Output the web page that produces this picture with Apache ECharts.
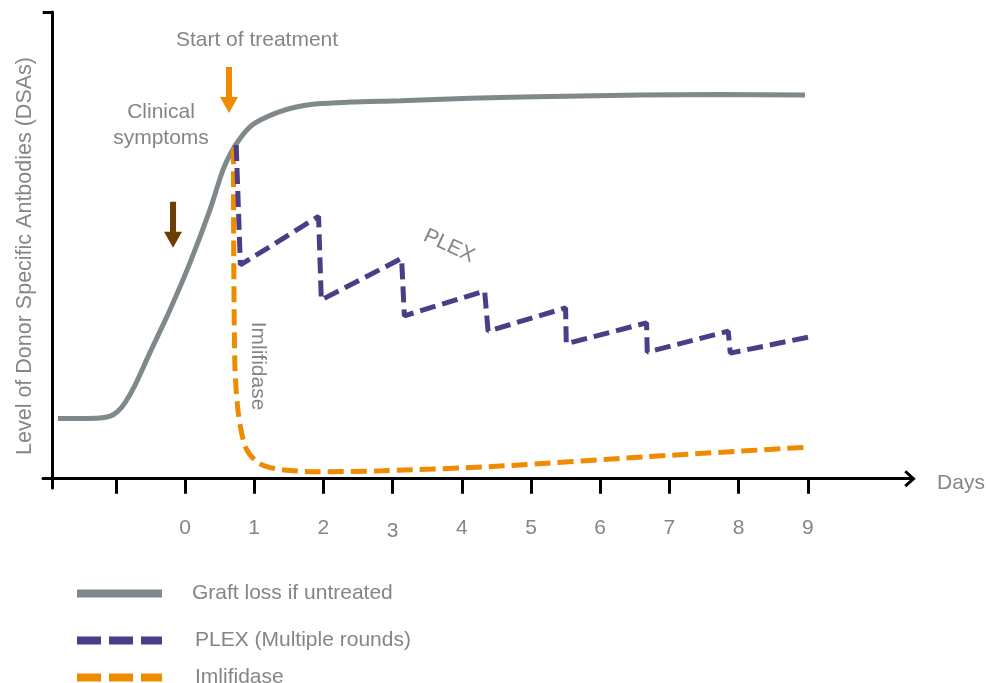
<!DOCTYPE html>
<html>
<head>
<meta charset="utf-8">
<script src="https://cdn.jsdelivr.net/npm/echarts@6/dist/echarts.min.js"></script>
<style>
html,body{margin:0;padding:0;background:#fff;}
#chart{width:986px;height:683px;}
</style>
</head>
<body>
<div id="chart"></div>
<script>
// ---- data (days vs. relative DSA level) ----
const graftDays   = [-1.835, -1.52, -1.23, -1.08, -0.98, -0.87, -0.72, -0.51, -0.22, 0.07, 0.36, 0.55, 0.67, 0.80, 0.94, 1.11, 1.34, 1.59, 1.88, 2.38, 3.11, 4.12, 5.28, 6.58, 7.73, 8.96];
const graftLevels = [12.9, 12.9, 13.0, 13.4, 14.3, 16.2, 20.1, 26.9, 36.1, 46.2, 57.6, 66.2, 70.0, 73.0, 75.4, 77.0, 78.5, 79.6, 80.3, 80.7, 81.0, 81.5, 81.9, 82.2, 82.3, 82.2];

const plexDays   = [0.74, 0.80, 1.93, 1.97, 3.13, 3.17, 4.33, 4.38, 5.50, 5.51, 6.67, 6.68, 7.85, 7.88, 9.03];
const plexLevels = [71.5, 45.8, 56.2, 38.3, 47.2, 34.9, 40.2, 31.6, 36.6, 28.9, 33.4, 27.1, 31.6, 26.9, 30.4];

const imliDays   = [0.70, 0.705, 0.72, 0.74, 0.77, 0.81, 0.87, 0.94, 1.06, 1.16, 1.40, 1.88, 2.86, 4.55, 6.67, 8.94];
const imliLevels = [70.8, 46.2, 24.8, 18.9, 14.1, 10.4, 6.9, 5.1, 3.4, 2.7, 1.9, 1.5, 1.7, 2.7, 4.7, 6.7];

const tickDays  = [-1, 0, 1, 2, 3, 4, 5, 6, 7, 8, 9];
const labelDays = [0, 1, 2, 3, 4, 5, 6, 7, 8, 9];

const seriesNames = ['Graft loss if untreated', 'PLEX (Multiple rounds)', 'Imlifidase'];
const startArrow   = [0.636, 83.3];   // "Start of treatment"
const symptomArrow = [-0.173, 54.4];  // "Clinical symptoms"

// ---- styles ----
const GREY = '#7f898b', PURPLE = '#4a3f86', ORANGE = '#ee8b00', BROWN = '#6b3f02';
const TXT = '#858585';
const FONT = '"Liberation Sans", Arial, sans-serif';
const FS = 21;

const pairs = (xs, ys) => xs.map((x, i) => [x, ys[i]]);
const arrowPath = 'path://M6,0 L12,0 L12,30 L18,30 L9,46 L0,30 L6,30 Z';
const chevron = 'path://M0,9.5 L8.5,0 L17,9.5 L14.8,11.5 L8.5,4.5 L2.2,11.5 Z';

function legendFor(name, top, dash, textPad) {
  return {
    data: [name], left: 73, top: top, orient: 'vertical', padding: 0,
    itemWidth: 85, itemHeight: 14, selectedMode: false,
    lineStyle: { width: 8, type: dash },
    itemStyle: { color: 'transparent', borderColor: 'transparent', borderWidth: 0, opacity: 0 },
    textStyle: { fontFamily: FONT, fontSize: FS, color: TXT, padding: textPad }
  };
}

const chart = echarts.init(document.getElementById('chart'), null, { renderer: 'canvas' });
chart.setOption({
  animation: false,
  backgroundColor: '#fff',
  grid: { left: 43, right: 76, top: 12, bottom: 195 },
  xAxis: {
    type: 'value', min: -2.052, max: 10.477,
    axisLine: { show: true, onZero: true, lineStyle: { color: '#000', width: 3 },
      symbol: ['none', chevron], symbolSize: [17, 12] },
    axisTick: { show: true, customValues: tickDays, length: 15, lineStyle: { color: '#000', width: 3 } },
    axisLabel: { show: true, customValues: labelDays, margin: 30, fontFamily: FONT, fontSize: FS, color: TXT,
      formatter: v => (v === 3 ? '{d|3}' : String(v)),
      rich: { d: { fontFamily: FONT, fontSize: FS, color: TXT, padding: [3, 0, 0, 0] } } },
    splitLine: { show: false }
  },
  yAxis: {
    type: 'value', min: -2, max: 100, offset: -9.7,
    axisLine: { show: true, onZero: false, lineStyle: { color: '#000', width: 3 } },
    axisTick: { show: true, customValues: [100], length: 10, lineStyle: { color: '#000', width: 3 } },
    axisLabel: { show: false },
    splitLine: { show: false }
  },
  legend: [
    legendFor(seriesNames[0], 583, 'solid', [14, 0, 0, 25]),
    legendFor(seriesNames[1], 630, [24, 8], [2, 0, 0, 28]),
    legendFor(seriesNames[2], 667, [24, 8], [0, 0, 16, 28])
  ],
  series: [
    { name: seriesNames[0], type: 'line', data: pairs(graftDays, graftLevels), smooth: 0.3,
      symbol: 'none', color: GREY, lineStyle: { color: GREY, width: 5 }, z: 2 },
    { name: seriesNames[2], type: 'line', data: pairs(imliDays, imliLevels), smooth: 0.3,
      symbol: 'none', color: ORANGE, lineStyle: { color: ORANGE, width: 5, type: [16, 7] }, z: 3 },
    { name: seriesNames[1], type: 'line', data: pairs(plexDays, plexLevels), smooth: false,
      symbol: 'none', color: PURPLE, lineStyle: { color: PURPLE, width: 5, type: [16, 7] }, z: 4 },
    { name: 'arrows', type: 'scatter', silent: true, symbol: arrowPath, symbolSize: [18, 46],
      itemStyle: { opacity: 1 },
      data: [
        { value: startArrow, itemStyle: { color: ORANGE, opacity: 1 } },
        { value: symptomArrow, itemStyle: { color: BROWN, opacity: 1 } }
      ], z: 5 }
  ],
  graphic: [
    { type: 'text', x: 25, y: 256, rotation: Math.PI / 2,
      style: { text: 'Level of Donor Specific Antbodies (DSAs)', fontFamily: FONT, fontSize: 21.5, fill: TXT, align: 'center', verticalAlign: 'middle' } },
    { type: 'text', x: 257, y: 40,
      style: { text: 'Start of treatment', fontFamily: FONT, fontSize: FS, fill: TXT, align: 'center', verticalAlign: 'middle' } },
    { type: 'text', x: 161, y: 112,
      style: { text: 'Clinical', fontFamily: FONT, fontSize: FS, fill: TXT, align: 'center', verticalAlign: 'middle' } },
    { type: 'text', x: 161, y: 138,
      style: { text: 'symptoms', fontFamily: FONT, fontSize: FS, fill: TXT, align: 'center', verticalAlign: 'middle' } },
    { type: 'text', x: 449, y: 246, rotation: -25 * Math.PI / 180,
      style: { text: 'PLEX', fontFamily: FONT, fontSize: FS, fill: TXT, align: 'center', verticalAlign: 'middle' } },
    { type: 'text', x: 258, y: 366, rotation: -Math.PI / 2,
      style: { text: 'Imlifidase', fontFamily: FONT, fontSize: FS, fill: TXT, align: 'center', verticalAlign: 'middle' } },
    { type: 'text', x: 961, y: 483,
      style: { text: 'Days', fontFamily: FONT, fontSize: FS, fill: TXT, align: 'center', verticalAlign: 'middle' } }
  ]
});
</script>
</body>
</html>
